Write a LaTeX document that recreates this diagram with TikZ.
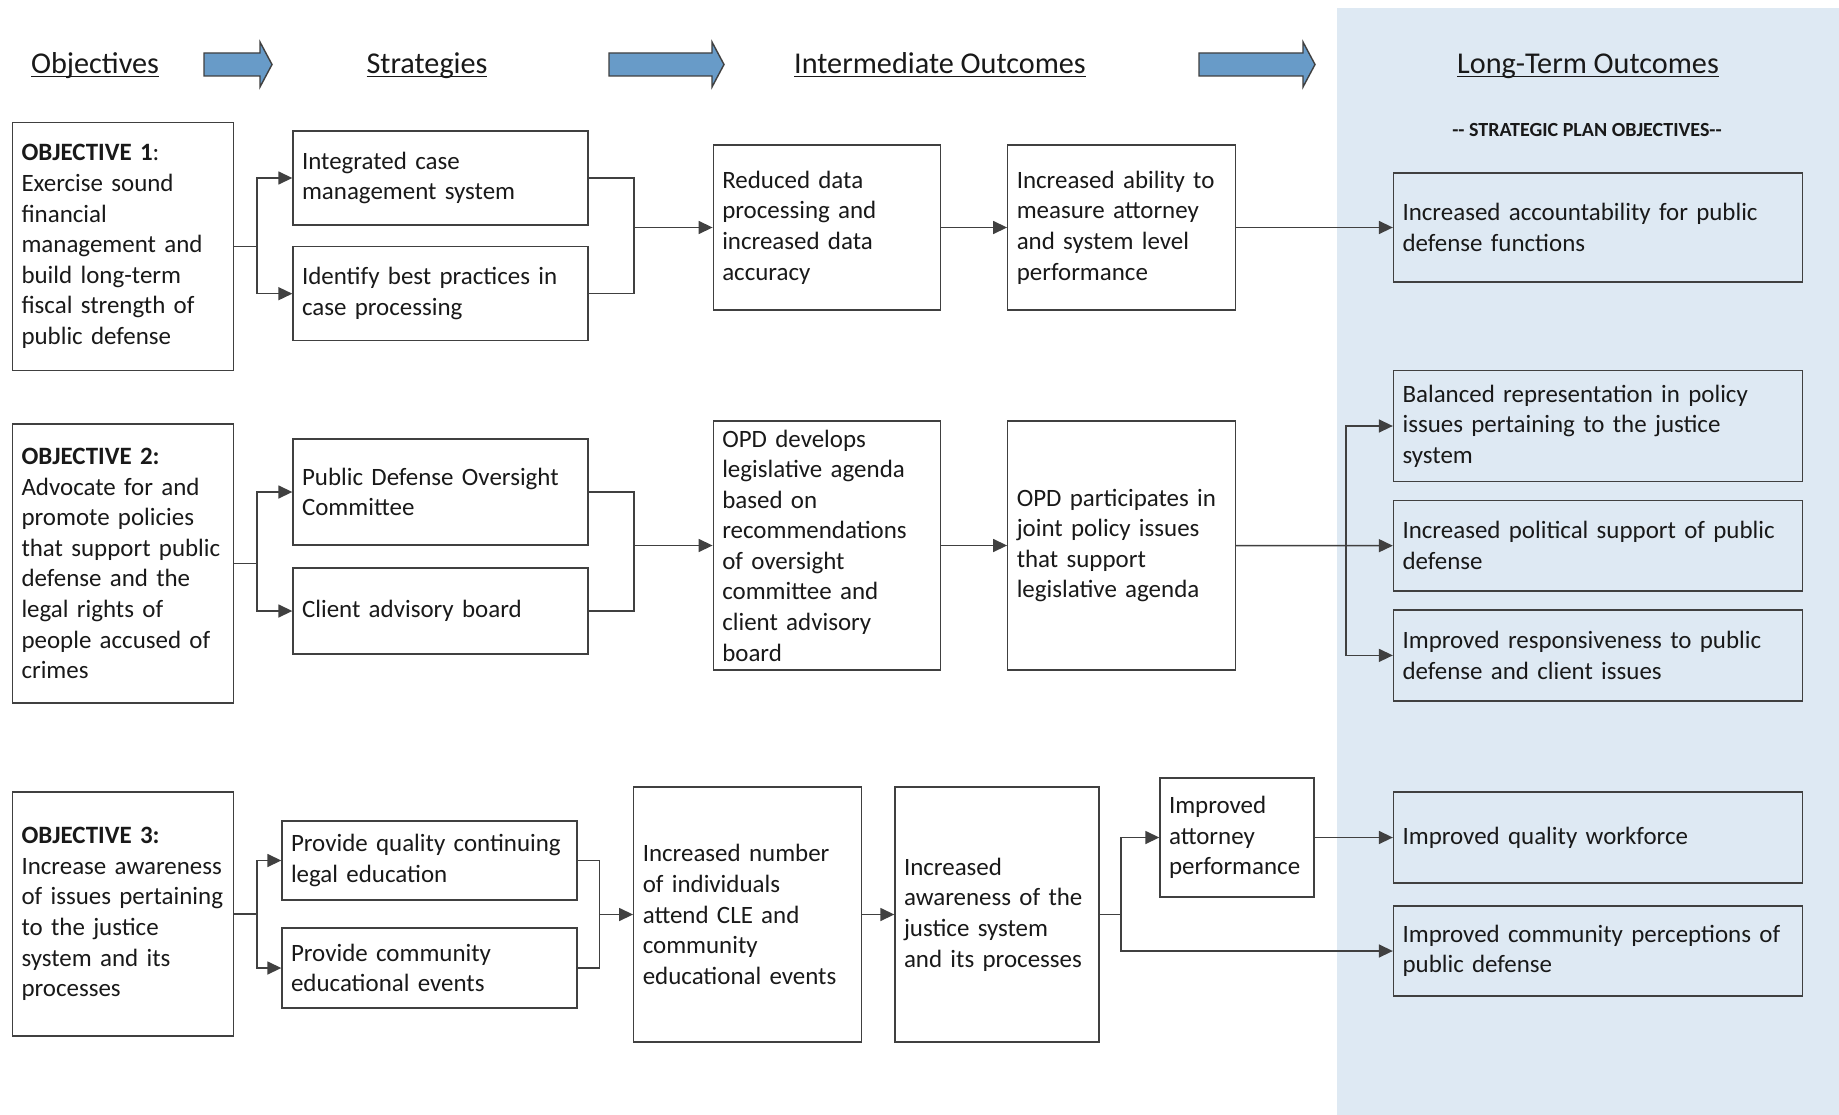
\documentclass[tikz,border=0pt]{standalone}
\usepackage{fontspec}
\setmainfont{Carlito}
\usetikzlibrary{arrows.meta}
\pgfdeclarelayer{background}
\pgfsetlayers{background,main}
\definecolor{panelblue}{RGB}{222,233,243}
\definecolor{arrowblue}{RGB}{104,155,200}
\definecolor{linegray}{RGB}{64,64,64}
\tikzstyle{box}=[draw=linegray, line width=0.8pt, fill=white, align=left,
    inner xsep=0.18cm, inner ysep=0pt, text=black!90,
    font=\fontsize{14.2}{17.4}\selectfont]
\tikzstyle{obj}=[box, text width=4.06cm]
\tikzstyle{strat}=[box, text width=5.54cm]
\tikzstyle{mid}=[box, text width=4.19cm]
\tikzstyle{lterm}=[box, fill=panelblue, text width=7.82cm]
\tikzstyle{header}=[anchor=base, text=black!90, font=\fontsize{17.2}{20}\selectfont]
\tikzstyle{hdarrow}=[fill=arrowblue, draw=linegray, line width=0.8pt]
\tikzstyle{link}=[draw=linegray, line width=0.85pt]

\begin{document}
\begin{tikzpicture}[x=0.02cm, y=-0.02cm, >={Triangle[length=0.28cm, width=0.26cm]}]
    \useasboundingbox (0,0) rectangle (1839,1115);

    \begin{pgfonlayer}{background}
        \path[fill=white] (0,0) rectangle (1839,1115);
        \path[fill=panelblue] (1337,8) rectangle (1839,1115);
    \end{pgfonlayer}

    %%% column headers
    \path (95,74) node (hdobj)[header] {\underline{\smash{Objectives}}};
    \path (427,74) node (hdstr)[header] {\underline{\smash{Strategies}}};
    \path (940,74) node (hdmid)[header] {\underline{\smash{Intermediate Outcomes}}};
    \path (1588,74) node (hdlong)[header] {\underline{\smash{Long-Term Outcomes}}};
    \path (1587,136) node (plan)[header, font=\fontsize{11.4}{14}\selectfont\bfseries]
        {-{}- STRATEGIC PLAN OBJECTIVES-{}-};

    \foreach \xa/\xt in {204/272, 609/724, 1199/1315}
        \path[hdarrow] (\xa,53) -- (\xt-12,53) -- (\xt-12,42) -- (\xt,64.5)
            -- (\xt-12,87) -- (\xt-12,76) -- (\xa,76) -- cycle;

    %%% objective 1
    \path (123,246.5) node (obj1)[obj, minimum height=4.96cm]
        {{\bfseries OBJECTIVE 1}:\\Exercise sound\\financial\\management and\\build long-term\\fiscal strength of\\public defense};
    \path (440.5,178) node (str1a)[strat, minimum height=1.88cm] {Integrated case\\management system};
    \path (str1a.south)+(0,68) node (str1b)[strat, minimum height=1.88cm] {Identify best practices in\\case processing};
    \path (827,227.5) node (int1)[mid, minimum height=3.3cm] {Reduced data\\processing and\\increased data\\accuracy};
    \path (1121.5,227.5) node (int2)[mid, minimum height=3.3cm] {Increased ability to\\measure attorney\\and system level\\performance};
    \path (1598,227.5) node (lt1)[lterm, minimum height=2.18cm] {Increased accountability for public\\defense functions};

    %%% objective 2
    \path (123,563.5) node (obj2)[obj, minimum height=5.58cm]
        {{\bfseries OBJECTIVE 2:}\\Advocate for and\\promote policies\\that support public\\defense and the\\legal rights of\\people accused of\\crimes};
    \path (440.5,492) node (str2a)[strat, minimum height=2.12cm] {Public Defense Oversight\\Committee};
    \path (440.5,611) node (str2b)[strat, minimum height=1.72cm] {Client advisory board};
    \path (827,545.5) node (int3)[mid, minimum height=4.98cm] {OPD develops\\legislative agenda\\based on\\recommendations\\of oversight\\committee and\\client advisory\\board};
    \path (1121.5,545.5) node (int4)[mid, minimum height=4.98cm] {OPD participates in\\joint policy issues\\that support\\legislative agenda};
    \path (1598,426) node (lt2)[lterm, minimum height=2.22cm] {Balanced representation in policy\\issues pertaining to the justice\\system};
    \path (lt2.south)+(0,63.5) node (lt3)[lterm, minimum height=1.82cm] {Increased political support of public\\defense};
    \path (lt3.south)+(0,63.5) node (lt4)[lterm, minimum height=1.82cm] {Improved responsiveness to public\\defense and client issues};

    %%% objective 3
    \path (123,914) node (obj3)[obj, minimum height=4.88cm]
        {{\bfseries OBJECTIVE 3:}\\Increase awareness\\of issues pertaining\\to the justice\\system and its\\processes};
    \path (429.5,860.5) node (str3a)[strat, minimum height=1.58cm] {Provide quality continuing\\legal education};
    \path (429.5,968) node (str3b)[strat, minimum height=1.6cm] {Provide community\\educational events};
    \path (747.5,914.5) node (int5)[mid, minimum height=5.1cm] {Increased number\\of individuals\\attend CLE and\\community\\educational events};
    \path (997,914.5) node (int6)[mid, text width=3.72cm, minimum height=5.1cm] {Increased\\awareness of the\\justice system\\and its processes};
    \path (1237,837.5) node (int7)[mid, text width=2.72cm, minimum height=2.38cm] {Improved\\attorney\\performance};
    \path (1598,837.5) node (lt5)[lterm, minimum height=1.82cm] {Improved quality workforce};
    \path (1598,951) node (lt6)[lterm, minimum height=1.8cm] {Improved community perceptions of\\public defense};

    %%% arrows
    \coordinate (sp1) at (257,246.5);
    \coordinate (mg1) at (634,227.5);
    \path [link] (obj1.east) -- (sp1);
    \path [link,->] (sp1) |- (str1a.west);
    \path [link,->] (sp1) |- (str1b.west);
    \path [link] (str1a.east) -| (mg1);
    \path [link] (str1b.east) -| (mg1);
    \path [link,->] (mg1) -- (int1.west);
    \path [link,->] (int1.east) -- (int2.west);
    \path [link,->] (int2.east) -- (lt1.west);

    \coordinate (sp2) at (257,563.5);
    \coordinate (mg2) at (634,545.5);
    \coordinate (sp4) at (1346,545.5);
    \path [link] (obj2.east) -- (sp2);
    \path [link,->] (sp2) |- (str2a.west);
    \path [link,->] (sp2) |- (str2b.west);
    \path [link] (str2a.east) -| (mg2);
    \path [link] (str2b.east) -| (mg2);
    \path [link,->] (mg2) -- (int3.west);
    \path [link,->] (int3.east) -- (int4.west);
    \path [link,->] (int4.east) -- (lt3.west);
    \path [link,->] (sp4) |- (lt2.west);
    \path [link,->] (sp4) |- (lt4.west);

    \coordinate (sp3) at (257,914);
    \coordinate (mg3) at (599.5,914.5);
    \coordinate (sp6) at (1121,914.5);
    \path [link] (obj3.east) -- (sp3);
    \path [link,->] (sp3) |- (str3a.west);
    \path [link,->] (sp3) |- (str3b.west);
    \path [link] (str3a.east) -| (mg3);
    \path [link] (str3b.east) -| (mg3);
    \path [link,->] (mg3) -- (int5.west);
    \path [link,->] (int5.east) -- (int6.west);
    \path [link] (int6.east) -- (sp6);
    \path [link,->] (sp6) |- (int7.west);
    \path [link,->] (sp6) |- (lt6.west);
    \path [link,->] (int7.east) -- (lt5.west);

\end{tikzpicture}
\end{document}
